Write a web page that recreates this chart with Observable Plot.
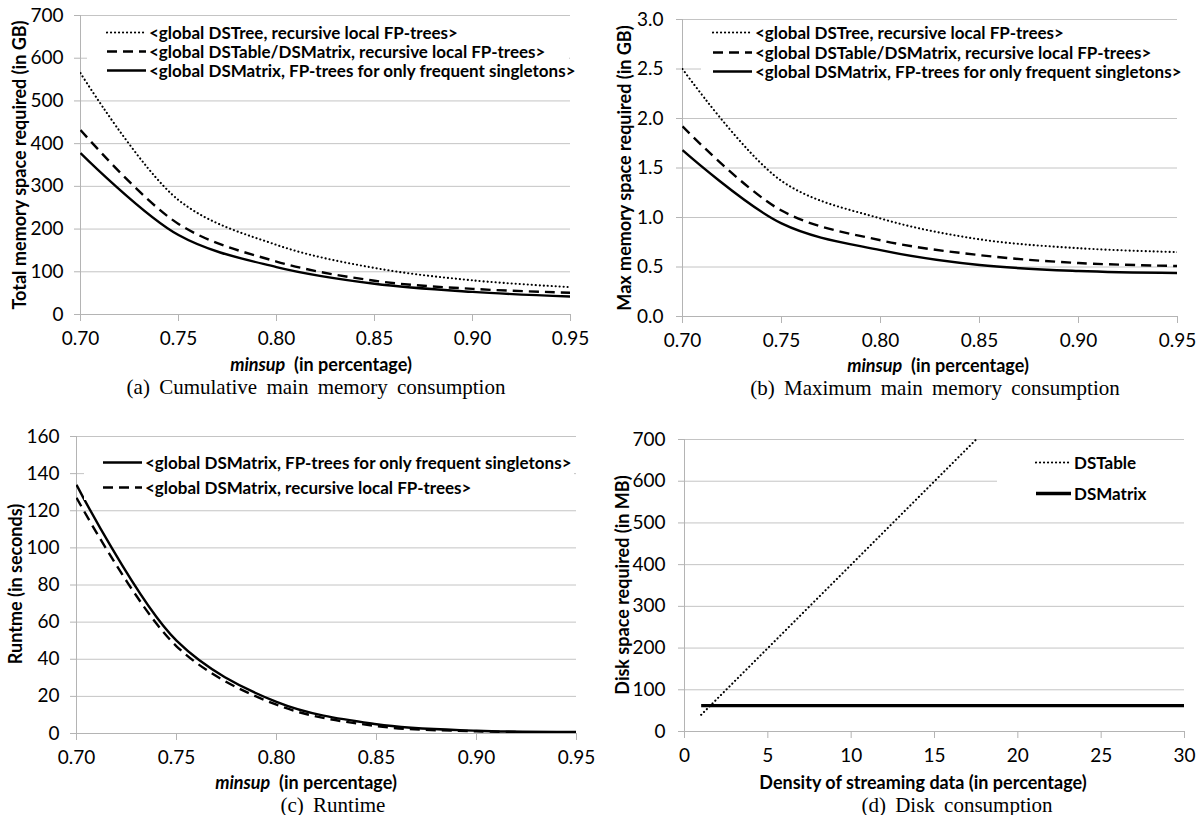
<!DOCTYPE html>
<html>
<head>
<meta charset="utf-8">
<script src="https://cdn.jsdelivr.net/npm/d3@7"></script>
<script src="https://cdn.jsdelivr.net/npm/@observablehq/plot@0.6"></script>
<style>
  html, body { margin: 0; padding: 0; background: #fff; }
  #root { position: relative; width: 1197px; height: 815px; overflow: hidden; background: #fff; font-family: Lato, "Open Sans", sans-serif; color: #000; }
  .panel { position: absolute; }
  .ytitle { position: absolute; transform: translate(-50%, -50%) rotate(-90deg); white-space: nowrap; font-weight: 700; font-size: 18px; }
  .xtitle { position: absolute; transform: translate(-50%, -50%); white-space: nowrap; font-weight: 700; font-size: 18px; }
  .caption { position: absolute; transform: translate(-50%, -50%); white-space: nowrap; font-family: "Liberation Serif", "Times New Roman", serif; font-size: 21px; word-spacing: 4px; }
  .legend { position: absolute; background: #fff; font-weight: 700; font-size: 17px; }
  .legend .row { position: absolute; left: 0; display: flex; align-items: center; white-space: nowrap; transform: translateY(-50%); }
  .legend svg { display: block; margin-right: 3px; }
</style>
</head>
<body>
<div id="root"></div>
<script>
// ---------------- data ----------------
const minsupX = [0.70, 0.75, 0.80, 0.85, 0.90, 0.95];
const minsupTicks = [0.70, 0.75, 0.80, 0.85, 0.90, 0.95];

// (a) cumulative main memory (GB)
const aDSTree   = [565, 268, 163, 109, 80, 64];
const aDSTable  = [432, 212, 124, 79, 60, 51];
const aDSMatrix = [378, 186, 111, 72, 53, 42];
const aTicks = [0, 100, 200, 300, 400, 500, 600, 700];

// (b) maximum main memory (GB)
const bDSTree   = [2.50, 1.37, 0.99, 0.78, 0.69, 0.65];
const bDSTable  = [1.92, 1.07, 0.77, 0.62, 0.54, 0.51];
const bDSMatrix = [1.68, 0.94, 0.67, 0.52, 0.46, 0.44];
const bTicks = [0, 0.5, 1.0, 1.5, 2.0, 2.5, 3.0];

// (c) runtime (seconds)
const cSingletons = [134, 50, 17, 5, 1.5, 0.8];
const cRecursive  = [127, 47, 15.5, 4, 1.2, 0.6];
const cTicks = [0, 20, 40, 60, 80, 100, 120, 140, 160];

// (d) disk consumption (MB)
const densityTable = [1, 5, 10, 15, 17.5];
const dDSTable = [40, 200, 400, 600, 700];
const densityMatrix = [1, 5, 10, 15, 20, 25, 30];
const dDSMatrix = [62, 62, 62, 62, 62, 62, 62];
const dXTicks = [0, 5, 10, 15, 20, 25, 30];
const dYTicks = [0, 100, 200, 300, 400, 500, 600, 700];

const labelsA = [
  "<global DSTree, recursive local FP-trees>",
  "<global DSTable/DSMatrix, recursive local FP-trees>",
  "<global DSMatrix, FP-trees for only frequent singletons>"
];
const labelsC = [
  "<global DSMatrix, FP-trees for only frequent singletons>",
  "<global DSMatrix, recursive local FP-trees>"
];
const labelsD = ["DSTable", "DSMatrix"];

// ---------------- styles ----------------
const STY = {
  dotted: {stroke: "#000", strokeWidth: 2.1, strokeDasharray: "0.1,3.9", strokeLinecap: "round"},
  dashed: {stroke: "#000", strokeWidth: 2.4, strokeDasharray: "10,6", strokeLinecap: "butt"},
  solid:  {stroke: "#000", strokeWidth: 2.4, strokeLinecap: "butt"},
  solidThick: {stroke: "#000", strokeWidth: 3.4, strokeLinecap: "butt"}
};
const GRID = "#c4c4c4";
const AXIS = "#b4b4b4";
const TICKFONT = 19;

const root = document.getElementById("root");

function rows(xs, ys) { return xs.map((x, i) => ({x, y: ys[i]})); }

function makePanel(o) {
  const marks = [
    Plot.gridY(o.yTicks, {stroke: GRID, strokeOpacity: 1}),
    Plot.ruleY([o.yDomain[0]], {stroke: AXIS}),
    Plot.ruleX([o.xDomain[0]], {stroke: AXIS}),
    Plot.axisY(o.yTicks, {tickFormat: o.yFmt, tickSize: 6, tickPadding: o.yPad, stroke: AXIS, fill: "#000", fontSize: TICKFONT, label: null}),
    Plot.axisX(o.xTicks, {tickFormat: o.xFmt, tickSize: 7, tickPadding: 10, stroke: AXIS, fill: "#000", fontSize: TICKFONT, label: null}),
    ...o.series.map(s => Plot.line(rows(s.x, s.y), {x: "x", y: "y", curve: s.curve || "catmull-rom", clip: true, ...STY[s.style]}))
  ];
  const svg = Plot.plot({
    width: o.width, height: o.height,
    marginLeft: o.m[0], marginTop: o.m[1], marginRight: o.m[2], marginBottom: o.m[3],
    x: {domain: o.xDomain},
    y: {domain: o.yDomain},
    style: {fontFamily: "Lato, 'Open Sans', sans-serif", fontSize: TICKFONT + "px", color: "#000", background: "transparent", overflow: "visible"},
    marks
  });
  const div = document.createElement("div");
  div.className = "panel";
  div.style.left = o.left + "px";
  div.style.top = o.top + "px";
  div.appendChild(svg);
  root.appendChild(div);
}

function addText(cls, html, x, y) {
  const d = document.createElement("div");
  d.className = cls;
  d.innerHTML = html;
  d.style.left = x + "px";
  d.style.top = y + "px";
  root.appendChild(d);
}

function sample(style, w) {
  const s = STY[style];
  return `<svg width="${w}" height="10"><line x1="1" y1="5" x2="${w}" y2="5" stroke="#000" stroke-width="${s.strokeWidth}" stroke-linecap="${s.strokeLinecap}" ${s.strokeDasharray ? `stroke-dasharray="${s.strokeDasharray}"` : ""}/></svg>`;
}

function addLegend(box, items, sampleW) {
  const d = document.createElement("div");
  d.className = "legend";
  d.style.left = box.left + "px";
  d.style.top = box.top + "px";
  d.style.width = box.width + "px";
  d.style.height = box.height + "px";
  items.forEach((it, i) => {
    const r = document.createElement("div");
    r.className = "row";
    r.style.left = box.padLeft + "px";
    r.style.top = (box.rowY[i] - box.top) + "px";
    r.innerHTML = sample(it.style, sampleW) + `<span>${it.label.replace(/</g, "&lt;").replace(/>/g, "&gt;")}</span>`;
    d.appendChild(r);
  });
  root.appendChild(d);
}

const f2 = d3.format(".2f"), f1 = d3.format(".1f"), f0 = d3.format("d");

// (a)
makePanel({
  left: 0, top: 0, width: 597, height: 350, m: [80, 15, 27, 36],
  xDomain: [0.70, 0.95], yDomain: [0, 700], xTicks: minsupTicks, yTicks: aTicks, xFmt: f2, yFmt: f0, yPad: 11,
  series: [
    {x: minsupX, y: aDSTree, style: "dotted"},
    {x: minsupX, y: aDSTable, style: "dashed"},
    {x: minsupX, y: aDSMatrix, style: "solid"}
  ]
});
addText("ytitle", "Total memory space required (in GB)", 19, 165);
addText("xtitle", "<i>minsup</i>&nbsp; (in percentage)", 321, 364);
addText("caption", "(a) Cumulative main memory consumption", 316, 387);
addLegend({left: 87, top: 22, width: 482, height: 58, padLeft: 19, rowY: [32, 51, 70]},
  [{style: "dotted", label: labelsA[0]}, {style: "dashed", label: labelsA[1]}, {style: "solid", label: labelsA[2]}], 40);

// (b)
makePanel({
  left: 597, top: 0, width: 600, height: 352, m: [85, 19, 20, 36],
  xDomain: [0.70, 0.95], yDomain: [0, 3], xTicks: minsupTicks, yTicks: bTicks, xFmt: f2, yFmt: f1, yPad: 13,
  series: [
    {x: minsupX, y: bDSTree, style: "dotted"},
    {x: minsupX, y: bDSTable, style: "dashed"},
    {x: minsupX, y: bDSMatrix, style: "solid"}
  ]
});
addText("ytitle", "Max memory space required (in GB)", 624, 168);
addText("xtitle", "<i>minsup</i>&nbsp; (in percentage)", 938, 365);
addText("caption", "(b) Maximum main memory consumption", 935, 388);
addLegend({left: 701, top: 24, width: 476, height: 58, padLeft: 11, rowY: [32, 52, 71]},
  [{style: "dotted", label: labelsA[0]}, {style: "dashed", label: labelsA[1]}, {style: "solid", label: labelsA[2]}], 40);

// (c)
makePanel({
  left: 0, top: 420, width: 597, height: 350, m: [76, 16, 21, 37],
  xDomain: [0.70, 0.95], yDomain: [0, 160], xTicks: minsupTicks, yTicks: cTicks, xFmt: f2, yFmt: f0, yPad: 11,
  series: [
    {x: minsupX, y: cSingletons, style: "solid"},
    {x: minsupX, y: cRecursive, style: "dashed"}
  ]
});
addText("ytitle", "Runtme (in seconds)", 15, 584);
addText("xtitle", "<i>minsup</i>&nbsp; (in percentage)", 306, 782);
addText("caption", "(c) Runtime", 333, 805);
addLegend({left: 84, top: 448, width: 490, height: 52, padLeft: 18, rowY: [462, 487]},
  [{style: "solid", label: labelsC[0]}, {style: "dashed", label: labelsC[1]}], 40);

// (d)
makePanel({
  left: 597, top: 420, width: 600, height: 350, m: [87, 19, 13, 39],
  xDomain: [0, 30], yDomain: [0, 700], xTicks: dXTicks, yTicks: dYTicks, xFmt: f0, yFmt: f0, yPad: 13,
  series: [
    {x: densityTable, y: dDSTable, style: "dotted", curve: "linear"},
    {x: densityMatrix, y: dDSMatrix, style: "solidThick", curve: "linear"}
  ]
});
addText("ytitle", "Disk space required (in MB)", 622, 585);
addText("xtitle", "Density of streaming data (in percentage)", 923, 782);
addText("caption", "(d) Disk consumption", 957, 805);
addLegend({left: 997, top: 446, width: 187, height: 62, padLeft: 38, rowY: [462, 493]},
  [{style: "dotted", label: labelsD[0]}, {style: "solidThick", label: labelsD[1]}], 36);
</script>
</body>
</html>
